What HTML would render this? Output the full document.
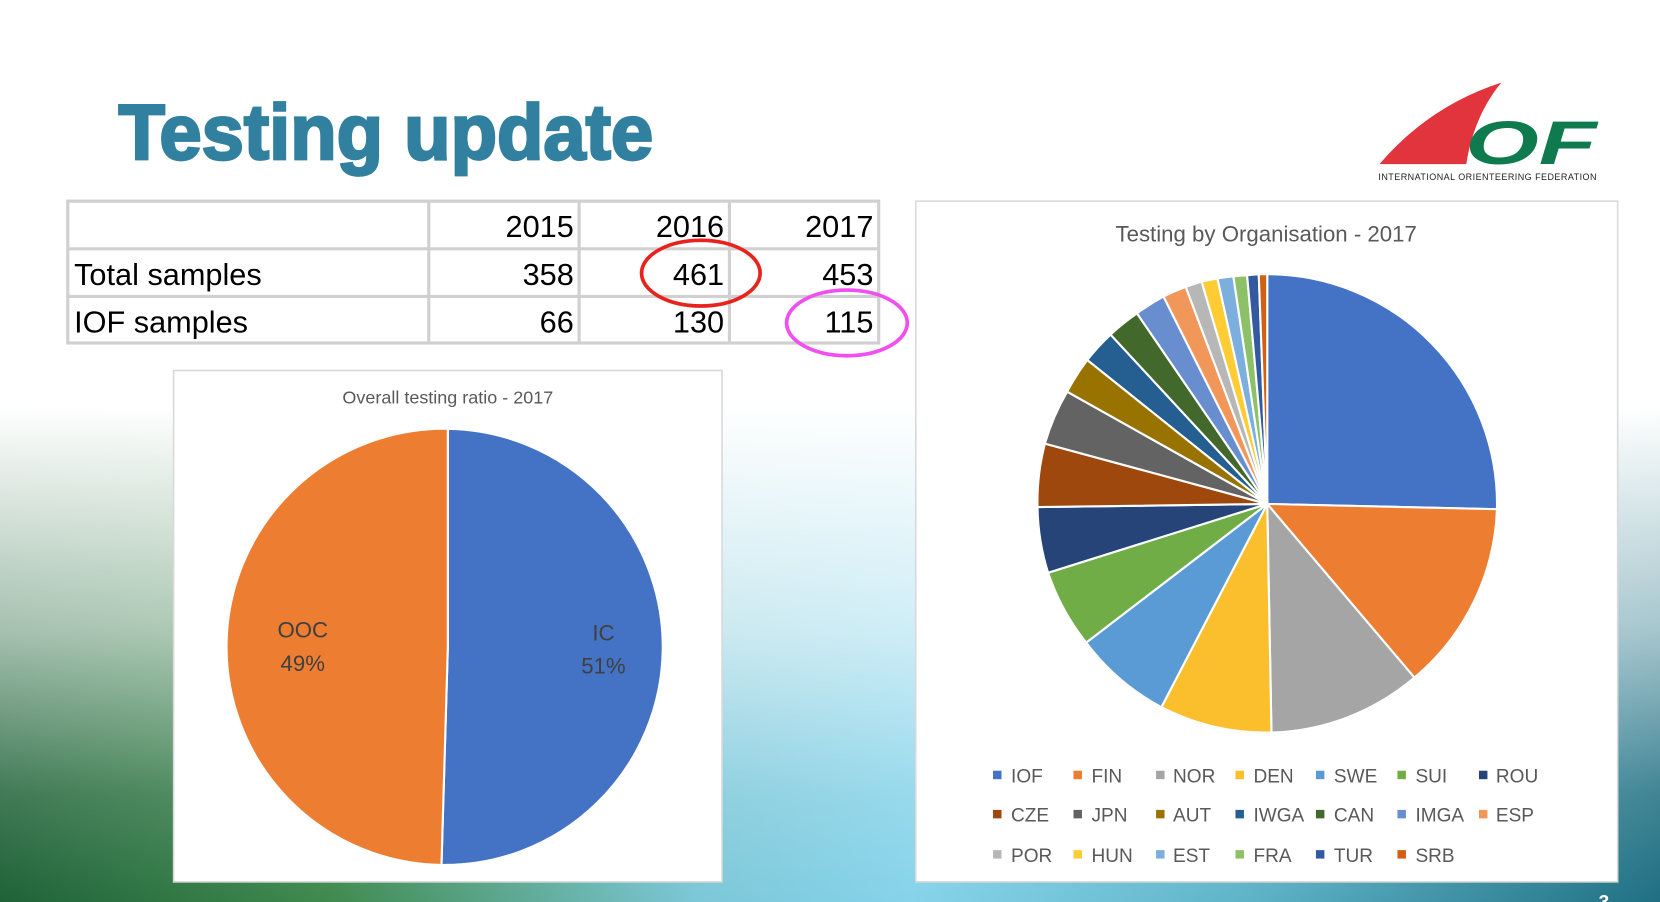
<!DOCTYPE html>
<html><head><meta charset="utf-8"><style>
html,body{margin:0;padding:0;width:1660px;height:902px;overflow:hidden;background:#fff}
svg{display:block}
</style></head><body>
<svg width="1660" height="902" viewBox="0 0 1568 852" preserveAspectRatio="none" xmlns="http://www.w3.org/2000/svg" font-family="Liberation Sans, sans-serif">
<defs>
<linearGradient id="hz" x1="0" y1="0" x2="1" y2="0">
<stop offset="0" stop-color="#1f6238"/>
<stop offset="0.2" stop-color="#3f8a4e"/>
<stop offset="0.42" stop-color="#7cc7d8"/>
<stop offset="0.55" stop-color="#86d3ea"/>
<stop offset="0.75" stop-color="#5fb4c8"/>
<stop offset="1" stop-color="#1f6f82"/>
</linearGradient>
<linearGradient id="vt" x1="0" y1="0" x2="0" y2="1">
<stop offset="0" stop-color="#fff" stop-opacity="1"/>
<stop offset="0.45" stop-color="#fff" stop-opacity="1"/>
<stop offset="0.7" stop-color="#fff" stop-opacity="0.6"/>
<stop offset="0.88" stop-color="#fff" stop-opacity="0.15"/>
<stop offset="1" stop-color="#fff" stop-opacity="0"/>
</linearGradient>
</defs>
<rect width="1568" height="852" fill="url(#hz)"/>
<rect width="1568" height="852" fill="url(#vt)"/>

<!-- Title -->
<text x="112" y="150" font-size="74" font-weight="bold" fill="#31809f" stroke="#31809f" stroke-width="2.5" transform="translate(112 0) scale(0.97 1) translate(-112 0)">Testing update</text>

<!-- Logo -->
<path d="M1303,155 Q1350,100 1418,78 Q1392,110 1385,155 Z" fill="#e2343c"/>
<text x="1384" y="155" font-size="58" font-weight="bold" font-style="italic" fill="#0f7a4e" textLength="124" lengthAdjust="spacingAndGlyphs">OF</text>
<text x="1302" y="170" font-size="8.5" fill="#222" textLength="206">INTERNATIONAL ORIENTEERING FEDERATION</text>

<!-- Table -->
<rect x="64" y="190" width="766" height="134" fill="#fff" stroke="#d0d0d0" stroke-width="3"/>
<g stroke="#d0d0d0" stroke-width="3">
<line x1="64" y1="235" x2="830" y2="235"/><line x1="64" y1="280" x2="830" y2="280"/>
<line x1="405" y1="190" x2="405" y2="324"/><line x1="547" y1="190" x2="547" y2="324"/><line x1="689" y1="190" x2="689" y2="324"/>
</g>
<g font-size="29" fill="#000">
<text x="542" y="224" text-anchor="end">2015</text><text x="684" y="224" text-anchor="end">2016</text><text x="825" y="224" text-anchor="end">2017</text>
<text x="70" y="269">Total samples</text><text x="542" y="269" text-anchor="end">358</text><text x="684" y="269" text-anchor="end">461</text><text x="825" y="269" text-anchor="end">453</text>
<text x="70" y="314">IOF samples</text><text x="542" y="314" text-anchor="end">66</text><text x="684" y="314" text-anchor="end">130</text><text x="825" y="314" text-anchor="end">115</text>
</g>
<ellipse cx="662" cy="258" rx="56" ry="31" fill="none" stroke="#e8231d" stroke-width="3.5"/>
<ellipse cx="800" cy="305" rx="57" ry="31" fill="none" stroke="#f050f0" stroke-width="3.5"/>

<!-- Left chart -->
<rect x="164" y="350" width="518" height="483" fill="#fff" stroke="#d9d9d9" stroke-width="1.5"/>
<text x="423" y="381" font-size="17" fill="#595959" text-anchor="middle">Overall testing ratio - 2017</text>
<path d="M423,611 L423,405 A206,206 0 1 1 417,817 Z" fill="#4472c4" stroke="#fff" stroke-width="2"/>
<path d="M423,611 L417,817 A206,206 0 0 1 423,405 Z" fill="#ed7d31" stroke="#fff" stroke-width="2"/>
<g font-size="21" fill="#404040" text-anchor="middle">
<text x="286" y="602">OOC</text><text x="286" y="634">49%</text>
<text x="570" y="605">IC</text><text x="570" y="636">51%</text>
</g>

<!-- Right chart -->
<rect x="865" y="190" width="663" height="643" fill="#fff" stroke="#d9d9d9" stroke-width="1.5"/>
<text x="1196" y="228" font-size="21" fill="#595959" text-anchor="middle">Testing by Organisation - 2017</text>
<g stroke="#fff" stroke-width="2">
<path d="M1197,476 L1197,259 A217,217 0 0 1 1414,481 Z" fill="#4472c4"/>
<path d="M1197,476 L1414,481 A217,217 0 0 1 1336,640 Z" fill="#ed7d31"/>
<path d="M1197,476 L1336,640 A217,217 0 0 1 1201,692 Z" fill="#a5a5a5"/>
<path d="M1197,476 L1201,692 A217,217 0 0 1 1097,668 Z" fill="#fbbf2e"/>
<path d="M1197,476 L1097,668 A217,217 0 0 1 1026,607 Z" fill="#5b9bd5"/>
<path d="M1197,476 L1026,607 A217,217 0 0 1 990,541 Z" fill="#70ad47"/>
<path d="M1197,476 L990,541 A217,217 0 0 1 980,479 Z" fill="#264478"/>
<path d="M1197,476 L980,479 A217,217 0 0 1 987,419 Z" fill="#9e480e"/>
<path d="M1197,476 L987,419 A217,217 0 0 1 1008,370 Z" fill="#636363"/>
<path d="M1197,476 L1008,370 A217,217 0 0 1 1027,340 Z" fill="#997300"/>
<path d="M1197,476 L1027,340 A217,217 0 0 1 1049,316 Z" fill="#255e91"/>
<path d="M1197,476 L1049,316 A217,217 0 0 1 1074,296 Z" fill="#43682b"/>
<path d="M1197,476 L1074,296 A217,217 0 0 1 1099,280 Z" fill="#698ed0"/>
<path d="M1197,476 L1099,280 A217,217 0 0 1 1120,271 Z" fill="#f1975a"/>
<path d="M1197,476 L1120,271 A217,217 0 0 1 1135,266 Z" fill="#b7b7b7"/>
<path d="M1197,476 L1135,266 A217,217 0 0 1 1150,263 Z" fill="#ffcd33"/>
<path d="M1197,476 L1150,263 A217,217 0 0 1 1165,261 Z" fill="#7cafdd"/>
<path d="M1197,476 L1165,261 A217,217 0 0 1 1178,260 Z" fill="#8cc168"/>
<path d="M1197,476 L1178,260 A217,217 0 0 1 1189,259 Z" fill="#335aa1"/>
<path d="M1197,476 L1189,259 A217,217 0 0 1 1197,259 Z" fill="#d26012"/>
</g>
<g font-size="18" fill="#595959">
<rect x="938" y="728" width="8" height="8" fill="#4472c4"/><text x="955" y="739">IOF</text>
<rect x="1014" y="728" width="8" height="8" fill="#ed7d31"/><text x="1031" y="739">FIN</text>
<rect x="1092" y="728" width="8" height="8" fill="#a5a5a5"/><text x="1108" y="739">NOR</text>
<rect x="1167" y="728" width="8" height="8" fill="#fbbf2e"/><text x="1184" y="739">DEN</text>
<rect x="1243" y="728" width="8" height="8" fill="#5b9bd5"/><text x="1260" y="739">SWE</text>
<rect x="1320" y="728" width="8" height="8" fill="#70ad47"/><text x="1337" y="739">SUI</text>
<rect x="1397" y="728" width="8" height="8" fill="#264478"/><text x="1413" y="739">ROU</text>

<rect x="938" y="765" width="8" height="8" fill="#9e480e"/><text x="955" y="776">CZE</text>
<rect x="1014" y="765" width="8" height="8" fill="#636363"/><text x="1031" y="776">JPN</text>
<rect x="1092" y="765" width="8" height="8" fill="#997300"/><text x="1108" y="776">AUT</text>
<rect x="1167" y="765" width="8" height="8" fill="#255e91"/><text x="1184" y="776">IWGA</text>
<rect x="1243" y="765" width="8" height="8" fill="#43682b"/><text x="1260" y="776">CAN</text>
<rect x="1320" y="765" width="8" height="8" fill="#698ed0"/><text x="1337" y="776">IMGA</text>
<rect x="1397" y="765" width="8" height="8" fill="#f1975a"/><text x="1413" y="776">ESP</text>

<rect x="938" y="803" width="8" height="8" fill="#b7b7b7"/><text x="955" y="814">POR</text>
<rect x="1014" y="803" width="8" height="8" fill="#ffcd33"/><text x="1031" y="814">HUN</text>
<rect x="1092" y="803" width="8" height="8" fill="#7cafdd"/><text x="1108" y="814">EST</text>
<rect x="1167" y="803" width="8" height="8" fill="#8cc168"/><text x="1184" y="814">FRA</text>
<rect x="1243" y="803" width="8" height="8" fill="#335aa1"/><text x="1260" y="814">TUR</text>
<rect x="1320" y="803" width="8" height="8" fill="#d26012"/><text x="1337" y="814">SRB</text>
</g>
<text x="1510" y="858" font-size="18" font-weight="bold" fill="#fff">3</text>
</svg>
</body></html>
